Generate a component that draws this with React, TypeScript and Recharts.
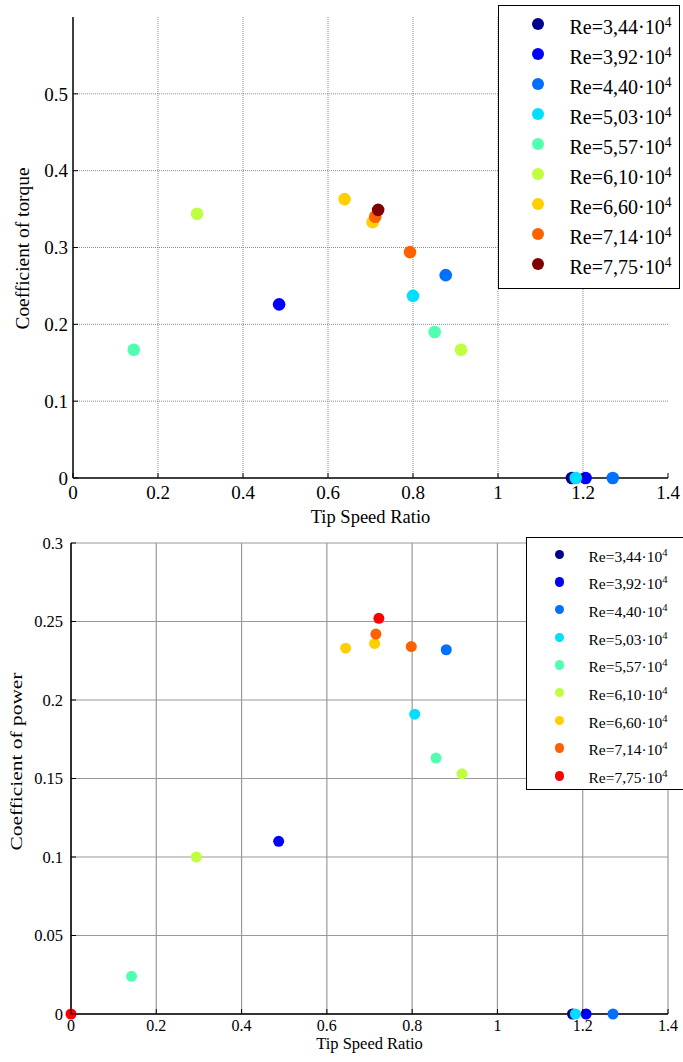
import React from 'react';
import { ScatterChart, Scatter, XAxis, YAxis, CartesianGrid, Legend } from 'recharts';

const SERIF = '"Liberation Serif", "Times New Roman", serif';

const reLabels = ['3,44', '3,92', '4,40', '5,03', '5,57', '6,10', '6,60', '7,14', '7,75'];
const torqueColors = ['#00008f', '#0000ff', '#0070ff', '#00dfff', '#50ffaf', '#bfff40', '#ffcf00', '#ff6000', '#800000'];
const powerColors = ['#00008f', '#0000ff', '#0070ff', '#00dfff', '#50ffaf', '#bfff40', '#ffcf00', '#ff6000', '#ff0000'];

const tsrTicks = [0, 0.2, 0.4, 0.6, 0.8, 1, 1.2, 1.4];
const torqueTicks = [0, 0.1, 0.2, 0.3, 0.4, 0.5];
const powerTicks = [0, 0.05, 0.1, 0.15, 0.2, 0.25, 0.3];

// one row per Reynolds number, same order as reLabels
const torqueTsr = [[1.174], [0.485, 1.206], [0.877, 1.27], [0.8, 1.183], [0.143, 0.851], [0.292, 0.913], [0.639, 0.705], [0.711, 0.793], [0.718]];
const torqueCt = [[0], [0.226, 0], [0.264, 0], [0.237, 0], [0.167, 0.19], [0.344, 0.167], [0.363, 0.333], [0.34, 0.294], [0.349]];

const powerTsr = [[1.176], [0.487, 1.208], [0.88, 1.271], [0.806, 1.183], [0.142, 0.856], [0.294, 0.917], [0.644, 0.712], [0.715, 0.798], [0, 0.722]];
const powerCp = [[0], [0.11, 0], [0.232, 0], [0.191, 0], [0.024, 0.163], [0.1, 0.153], [0.233, 0.236], [0.242, 0.234], [0, 0.252]];

function makeSeries(xs: number[][], ys: number[][]) {
  return xs.map((row, i) => row.map((x, j) => ({ tsr: x, val: ys[i][j] })));
}

function XTick(props: any) {
  const { x, y, payload, fontSize, gap } = props;
  const axisY = y - gap;
  return (
    <g>
      <line x1={x} x2={x} y1={axisY} y2={axisY - 5} stroke="#000" strokeWidth={1} />
      <text x={x} y={y} dy="0.71em" textAnchor="middle" fontFamily={SERIF} fontSize={fontSize} fill="#000">
        {String(payload.value)}
      </text>
    </g>
  );
}

function YTick(props: any) {
  const { x, y, payload, fontSize, gap } = props;
  const axisX = x + gap;
  return (
    <g>
      <line x1={axisX} x2={axisX + 5} y1={y} y2={y} stroke="#000" strokeWidth={1} />
      <text x={x} y={y} dy="0.355em" textAnchor="end" fontFamily={SERIF} fontSize={fontSize} fill="#000">
        {String(payload.value)}
      </text>
    </g>
  );
}

function ReLegend(props: any) {
  const { payload, cfg } = props;
  return (
    <div
      style={{
        width: cfg.w,
        height: cfg.h,
        border: '1.5px solid #000',
        background: '#fff',
        boxSizing: 'border-box',
        paddingTop: cfg.padTop,
        fontFamily: SERIF,
        fontSize: cfg.font,
        color: '#000',
      }}
    >
      {(payload || []).map((p: any, i: number) => (
        <div key={i} style={{ display: 'flex', alignItems: 'center', height: cfg.step, whiteSpace: 'nowrap' }}>
          <span
            style={{
              display: 'inline-block',
              width: cfg.r * 2,
              height: cfg.r * 2,
              borderRadius: '50%',
              background: p.color,
              marginLeft: cfg.markLeft,
              flex: 'none',
            }}
          />
          <span style={{ marginLeft: cfg.textGap, position: 'relative', top: cfg.textDrop, lineHeight: 1 }}>
            Re={p.value}·10<sup style={{ fontSize: '0.68em', lineHeight: 0, verticalAlign: '0.55em' }}>4</sup>
          </span>
        </div>
      ))}
    </div>
  );
}

function Panel(props: any) {
  const { cfg } = props;
  const series = makeSeries(cfg.xs, cfg.ys);
  const renderXTitle = (lp: any) => {
    const vb = lp.viewBox;
    return (
      <text x={vb.x + vb.width / 2} y={vb.y + cfg.xTitleDy} textAnchor="middle" fontFamily={SERIF} fontSize={cfg.titleFont} fill="#000">
        Tip Speed Ratio
      </text>
    );
  };
  const renderYTitle = (lp: any) => {
    const vb = lp.viewBox;
    const tx = cfg.yTitleX;
    const ty = vb.y + vb.height / 2 + cfg.yTitleDy;
    return (
      <text
        x={tx}
        y={ty}
        transform={`rotate(-90 ${tx} ${ty})`}
        textAnchor="middle"
        fontFamily={SERIF}
        fontSize={cfg.yTitleFont}
        textLength={cfg.yTitleLen}
        lengthAdjust="spacingAndGlyphs"
        fill="#000"
      >
        {cfg.yTitle}
      </text>
    );
  };
  return (
    <ScatterChart width={683} height={cfg.height} margin={cfg.margin}>
      <CartesianGrid {...cfg.grid} />
      <XAxis
        type="number"
        dataKey="tsr"
        domain={[0, 1.4]}
        ticks={tsrTicks}
        height={40}
        tickSize={0}
        tickMargin={cfg.xGap}
        tickLine={false}
        axisLine={{ stroke: '#000', strokeWidth: 1.5 }}
        tick={<XTick fontSize={cfg.xTickFont} gap={cfg.xGap} />}
        label={{ value: 'Tip Speed Ratio', content: renderXTitle }}
      />
      <XAxis
        xAxisId="top"
        orientation="top"
        type="number"
        domain={[0, 1.4]}
        ticks={tsrTicks}
        allowDataOverflow
        height={0}
        mirror
        tick={false}
        tickSize={4}
        axisLine={false}
        tickLine={{ stroke: '#000' }}
      />
      <YAxis
        type="number"
        dataKey="val"
        domain={cfg.yDomain}
        ticks={cfg.yTicks}
        width={cfg.yWidth}
        tickSize={0}
        tickMargin={cfg.yGap}
        tickLine={false}
        axisLine={{ stroke: '#000', strokeWidth: 1.5 }}
        tick={<YTick fontSize={cfg.yTickFont} gap={cfg.yGap} />}
        label={{ value: cfg.yTitle, content: renderYTitle }}
      />
      <YAxis
        yAxisId="right"
        orientation="right"
        type="number"
        domain={cfg.yDomain}
        ticks={cfg.yTicks}
        allowDataOverflow
        width={0}
        mirror
        tick={false}
        tickSize={4}
        axisLine={false}
        tickLine={{ stroke: '#000' }}
      />
      <Legend
        layout="horizontal"
        verticalAlign="middle"
        align="center"
        wrapperStyle={{ left: cfg.legend.left, top: cfg.legend.top, right: 'auto', bottom: 'auto', width: cfg.legend.w, height: cfg.legend.h }}
        content={(lp: any) => <ReLegend payload={lp.payload} cfg={cfg.legend} />}
      />
      {series.map((d, i) => (
        <Scatter
          key={reLabels[i]}
          name={reLabels[i]}
          data={d}
          fill={cfg.colors[i]}
          legendType="circle"
          isAnimationActive={false}
          shape={(p: any) => <circle cx={p.cx} cy={p.cy} r={cfg.dotR} fill={cfg.colors[i]} />}
        />
      ))}
    </ScatterChart>
  );
}

const torquePanel = {
  xs: torqueTsr,
  ys: torqueCt,
  colors: torqueColors,
  height: 530,
  margin: { top: 17, right: 15, bottom: 12, left: 0 },
  yWidth: 73,
  yGap: 5,
  xGap: 7.5,
  yDomain: [0, 0.6],
  yTicks: torqueTicks,
  yTitle: 'Coefficient of torque',
  yTitleX: 29,
  yTitleDy: 1,
  yTitleLen: 162,
  yTitleFont: 18,
  titleFont: 18.5,
  xTitleDy: 45,
  xTickFont: 19,
  yTickFont: 19,
  dotR: 6.3,
  grid: {
    stroke: '#8a8a8a',
    strokeDasharray: '1 1',
    horizontalValues: [0.1, 0.2, 0.3, 0.4, 0.5],
    verticalValues: [0.2, 0.4, 0.6, 0.8, 1, 1.2],
  },
  legend: { left: 498, top: 5, w: 182, h: 284, padTop: 2.5, step: 30, r: 6, markLeft: 32.5, textGap: 26, textDrop: 3, font: 20 },
};

const powerPanel = {
  xs: powerTsr,
  ys: powerCp,
  colors: powerColors,
  height: 532,
  margin: { top: 13, right: 15, bottom: 8, left: 0 },
  yWidth: 71,
  yGap: 8,
  xGap: 5.5,
  yDomain: [0, 0.3],
  yTicks: powerTicks,
  yTitle: 'Coefficient of power',
  yTitleX: 22,
  yTitleDy: -17,
  yTitleLen: 178,
  yTitleFont: 16,
  titleFont: 16.5,
  xTitleDy: 35,
  xTickFont: 16,
  yTickFont: 16.5,
  dotR: 5.5,
  grid: { stroke: '#9a9a9a', strokeWidth: 1.2 },
  legend: { left: 526, top: 7, w: 170, h: 253, padTop: 2.5, step: 27.7, r: 4.7, markLeft: 27.8, textGap: 24.3, textDrop: 2, font: 15.5 },
};

export default function App() {
  return (
    <div style={{ position: 'absolute', left: 0, top: 0, width: 683, height: 1062, overflow: 'hidden', background: '#fff' }}>
      <div style={{ position: 'absolute', left: 0, top: 0 }}>
        <Panel cfg={torquePanel} />
      </div>
      <div style={{ position: 'absolute', left: 0, top: 530 }}>
        <Panel cfg={powerPanel} />
      </div>
    </div>
  );
}
